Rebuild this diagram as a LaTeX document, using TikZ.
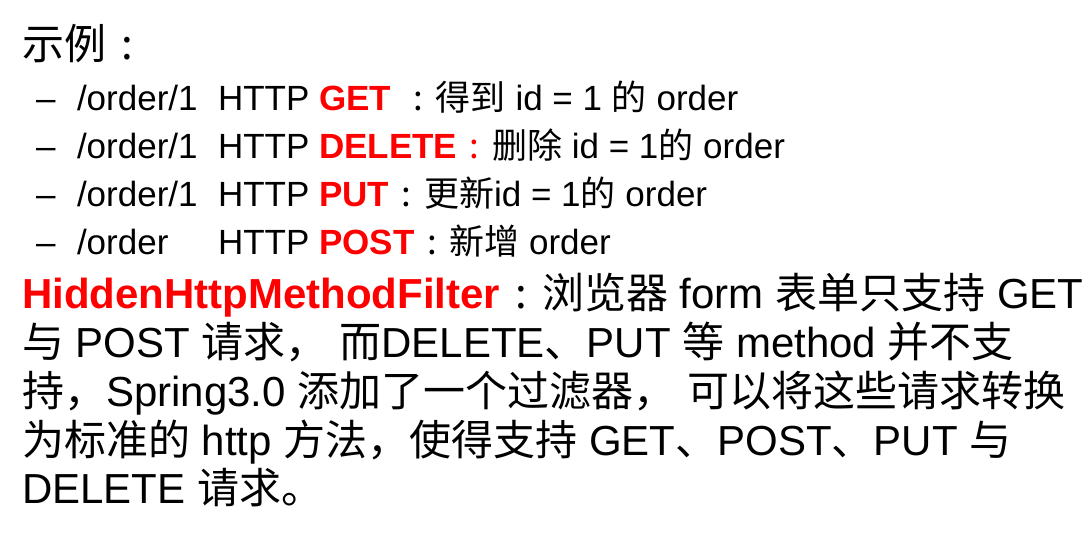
\documentclass[tikz,border=0pt]{standalone}
\usepackage{fontspec}
\setmainfont{Liberation Sans}
\newfontfamily\zh{Noto Sans CJK SC}
\newcommand{\hot}[1]{\textcolor{red}{\bfseries #1}}
\newcommand{\fc}{\makebox[1em][c]{\zh :}}
\begin{document}
\begin{tikzpicture}[x=1pt,y=-1pt,
  txt/.style={anchor=base west,inner sep=0pt,outer sep=0pt},
  big/.style={txt,font=\fontsize{42}{48}\selectfont},
  small/.style={txt,font=\fontsize{35}{40}\selectfont}]
\useasboundingbox (0,0) rectangle (1091,557);
\node [big] (ex) at (22,59) {{\zh 示例}\fc};
% the four requests
\node [small] (d1) at (36,110) {–};
\node [small] (u1) at (77,110) {/order/1};
\node [small] (m1) at (218,110) {HTTP \hot{GET} \fc{\zh 得到} id = 1 {\zh 的} order};
\node [small] (d2) at (36,158) {–};
\node [small] (u2) at (77,158) {/order/1};
\node [small] (m2) at (218,158) {HTTP \hot{DELETE}\textcolor{red}{\fc}{\zh 删除} id = 1{\zh 的} order};
\node [small] (d3) at (36,206) {–};
\node [small] (u3) at (77,206) {/order/1};
\node [small] (m3) at (218,206) {HTTP \hot{PUT}\fc{\zh 更新}id = 1{\zh 的} order};
\node [small] (d4) at (36,254) {–};
\node [small] (u4) at (77,254) {/order};
\node [small] (m4) at (218,254) {HTTP \hot{POST}\fc{\zh 新增} order};
% the filter
\node [big] (f1) at (22,308) {\hot{HiddenHttpMethodFilter}\fc{\zh 浏览器} form {\zh 表单只支持} GET};
\node [big] (f2) at (22,357) {{\zh 与} POST {\zh 请求，} {\zh 而}DELETE{\zh 、}PUT {\zh 等} method {\zh 并不支}};
\node [big] (f3) at (22,406) {{\zh 持，}Spring3.0 {\zh 添加了一个过滤器，} {\zh 可以将这些请求转换}};
\node [big] (f4) at (22,455) {{\zh 为标准的} http {\zh 方法，使得支持} GET{\zh 、}POST{\zh 、}PUT {\zh 与}};
\node [big] (f5) at (22,503) {DELETE {\zh 请求。}};
\end{tikzpicture}
\end{document}
